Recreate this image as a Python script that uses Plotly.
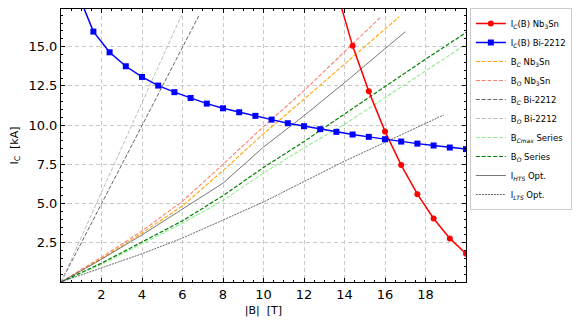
import plotly.graph_objects as go

# Critical current curves (kA) vs |B| (T)
B_IC_NB3SN = [13.6, 14.4, 15.2, 16.0, 16.8, 17.6, 18.4, 19.2, 20.0]
IC_NB3SN = [18.6, 15.05, 12.15, 9.6, 7.45, 5.6, 4.05, 2.78, 1.8]

B_IC_BI2212 = [0.8, 1.6, 2.4, 3.2, 4.0, 4.8, 5.6, 6.4, 7.2, 8.0, 8.8, 9.6, 10.4,
               11.2, 12.0, 12.8, 13.6, 14.4, 15.2, 16.0, 16.8, 17.6, 18.4, 19.2, 20.0]
IC_BI2212 = [18.5, 15.96, 14.64, 13.75, 13.07, 12.52, 12.1, 11.73, 11.37, 11.07, 10.82,
             10.59, 10.35, 10.12, 9.93, 9.74, 9.57, 9.4, 9.25, 9.1, 8.95, 8.82, 8.7, 8.57, 8.47]

# Load lines
B_BC_NB3SN = [0, 2, 4, 6, 8, 10, 12, 14, 16.7]
I_BC_NB3SN = [0, 1.48, 3.12, 4.85, 7.1, 9.45, 11.65, 13.9, 16.9]

B_BO_NB3SN = [0, 2, 4, 6, 8, 10, 12, 14, 15.8]
I_BO_NB3SN = [0, 1.58, 3.25, 5.15, 7.5, 9.9, 12.2, 14.65, 16.9]

B_BC_BI2212 = [0, 6.8]
I_BC_BI2212 = [0, 16.95]

B_BO_BI2212 = [0, 5.95]
I_BO_BI2212 = [0, 17.0]

B_SERIES = [0, 2, 4, 6, 8, 10, 12, 14, 16, 18, 20]
I_BCMAX_SERIES = [0, 1.12, 2.43, 3.75, 5.2, 6.95, 8.55, 10.05, 11.75, 13.45, 15.15]
I_BO_SERIES = [0, 1.2, 2.55, 3.9, 5.5, 7.3, 8.95, 10.7, 12.5, 14.2, 15.9]

B_HTS_OPT = [0, 2, 4, 6, 8, 10, 12, 14, 17]
I_HTS_OPT = [0, 1.45, 3.0, 4.64, 6.3, 8.6, 10.6, 12.7, 15.95]

B_LTS_OPT = [0, 2, 4, 6, 8, 10, 12, 14, 16, 18.9]
I_LTS_OPT = [0, 0.9, 1.8, 2.8, 3.95, 5.1, 6.4, 7.7, 8.9, 10.65]

X_TICKS = [2, 4, 6, 8, 10, 12, 14, 16, 18]
Y_TICKS = [2.5, 5.0, 7.5, 10.0, 12.5, 15.0]

FONT = "DejaVu Sans"

fig = go.Figure()


def add_line(x, y, name, color, width, dash, rank):
    fig.add_trace(go.Scatter(
        x=x, y=y, mode='lines', name=name,
        line=dict(color=color, width=width, dash=dash),
        legendrank=rank
    ))


# load lines first so the Ic curves sit on top
add_line(B_BC_NB3SN, I_BC_NB3SN, "B<sub><i>C</i></sub> Nb<sub>3</sub>Sn", "#FFA500", 1.1, "4px,1.8px", 3)
add_line(B_BO_NB3SN, I_BO_NB3SN, "B<sub><i>O</i></sub> Nb<sub>3</sub>Sn", "#FA8072", 1.1, "4px,1.8px", 4)
add_line(B_BC_BI2212, I_BC_BI2212, "B<sub><i>C</i></sub> Bi-2212", "#666666", 1.0, "4px,1.8px", 5)
add_line(B_BO_BI2212, I_BO_BI2212, "B<sub><i>O</i></sub> Bi-2212", "#BDBDBD", 1.0, "4px,1.8px", 6)
add_line(B_SERIES, I_BCMAX_SERIES, "B<sub><i>Cmax</i></sub> Series", "#90EE90", 1.1, "4px,1.8px", 7)
add_line(B_SERIES, I_BO_SERIES, "B<sub><i>O</i></sub> Series", "#008000", 1.2, "4px,1.8px", 8)
add_line(B_HTS_OPT, I_HTS_OPT, "I<sub><i>HTS</i></sub> Opt.", "#555555", 0.8, "solid", 9)
add_line(B_LTS_OPT, I_LTS_OPT, "I<sub><i>LTS</i></sub> Opt.", "#555555", 0.9, "2px,1px", 10)

fig.add_trace(go.Scatter(
    x=B_IC_NB3SN, y=IC_NB3SN, mode='lines+markers',
    name="I<sub><i>C</i></sub>(B) Nb<sub>3</sub>Sn",
    line=dict(color='#FF0000', width=1.5),
    marker=dict(color='#FF0000', size=6, symbol='circle'),
    legendrank=1
))
fig.add_trace(go.Scatter(
    x=B_IC_BI2212, y=IC_BI2212, mode='lines+markers',
    name="I<sub><i>C</i></sub>(B) Bi-2212",
    line=dict(color='#0000FF', width=1.5),
    marker=dict(color='#0000FF', size=6, symbol='square'),
    legendrank=2
))

axis_common = dict(
    showline=True, linecolor='black', linewidth=1, mirror='allticks',
    ticks='inside', ticklen=4, tickwidth=1, tickcolor='black',
    showgrid=True, gridcolor='#C8C8C8', gridwidth=1, griddash='4px,3px',
    zeroline=False, automargin=False,
    tickfont=dict(family=FONT, size=13, color='black'),
)

# the page body adds an 8px offset, so the figure is sized to fit the window
fig.update_layout(
    width=573, height=309,
    margin=dict(l=53, r=115, t=1, b=35),
    plot_bgcolor='white', paper_bgcolor='white',
    font=dict(family=FONT, size=11, color='black'),
    xaxis=dict(axis_common, range=[0, 20], tickvals=X_TICKS,
               minor=dict(ticks='inside', ticklen=2, tickcolor='black', dtick=0.5, showgrid=False),
               title=dict(text="|B|  [T]", font=dict(family=FONT, size=11), standoff=6)),
    yaxis=dict(axis_common, range=[0, 17.4], tickvals=Y_TICKS, tickformat='.1f',
               minor=dict(ticks='inside', ticklen=2, tickcolor='black', dtick=0.5, showgrid=False),
               title=dict(text="I<sub>C</sub>  [kA]", font=dict(family=FONT, size=11), standoff=11)),
    legend=dict(
        xref='container', yref='container',
        x=0.806, xanchor='left', y=1.0, yanchor='top',
        maxheight=300,
        bgcolor='white', bordercolor='#CCCCCC', borderwidth=1,
        font=dict(family=FONT, size=8.5, color='black'),
        tracegroupgap=0, itemwidth=30
    ),
    showlegend=True
)

fig.write_html("out.html")
